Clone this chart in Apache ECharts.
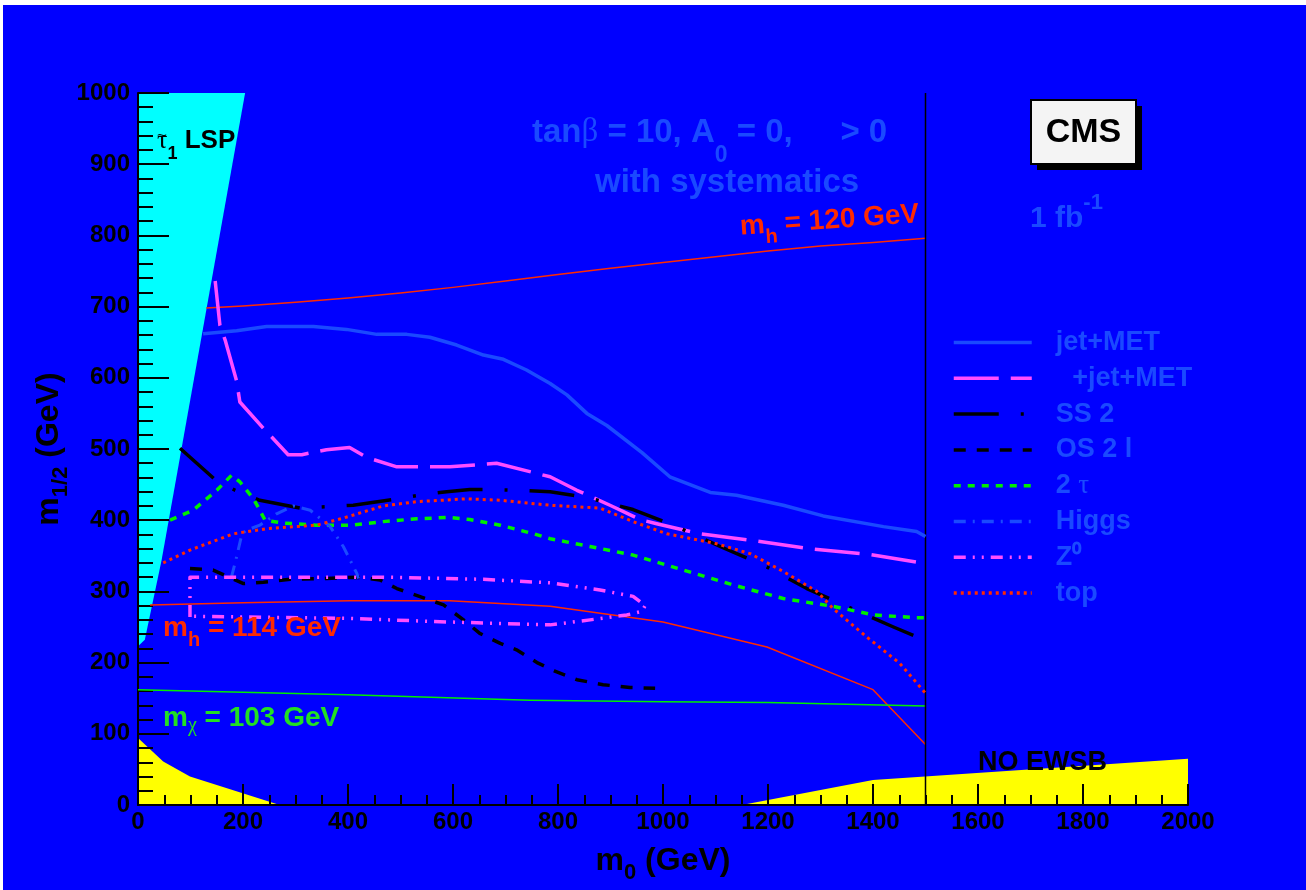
<!DOCTYPE html>
<html><head><meta charset="utf-8">
<script src="https://cdn.jsdelivr.net/npm/echarts@6/dist/echarts.min.js"></script>
<style>html,body{margin:0;padding:0;background:#fff;}#c{position:absolute;left:3px;top:5px;width:1303px;height:885px;}</style>
</head><body><div id="c"></div>
<script>
// ---------- data (m0, m1/2 in GeV) ----------
const xRange = [0, 2000];
const yRange = [0, 1000];
const legendNames = ['jet+MET', 'μ+jet+MET', 'SS 2μ', 'OS 2 l', '2 τ', 'Higgs', 'Z0', 'top'];

const jetMET = [[124,662],[188,666],[245,672],[334,672],[397,668],[455,661],[512,661],[556,657],[607,646],[658,632],[696,626],[740,611],[785,592],[817,576],[855,550],[893,533],[960,495],[1013,461],[1090,439],[1140,435],[1229,421],[1305,406],[1420,391],[1483,384],[1500,377]];
const muJetMET = [[147,736],[156,674],[166,653],[188,595],[194,566],[239,529],[286,492],[312,492],[359,499],[403,502],[436,488],[493,475],[594,475],[683,480],[785,461],[836,442],[899,421],[956,401],[988,395],[1070,381],[1166,372],[1280,360],[1394,352],[1500,339]];
const ss2mu = [[80,501],[147,457],[185,442],[232,428],[309,417],[362,419],[410,421],[493,430],[543,436],[588,440],[632,443],[674,443],[721,442],[785,440],[855,432],[943,415],[1026,391],[1112,362],[1191,337],[1274,304],[1350,279],[1439,250],[1500,231]];
const os2l = [[99,332],[143,330],[201,311],[239,313],[290,317],[359,318],[417,320],[461,316],[493,304],[544,291],[582,281],[620,260],[651,241],[690,227],[721,218],[760,200],[794,188],[836,176],[886,169],[937,165],[985,164]];
const tau2 = [[61,400],[105,414],[150,442],[178,463],[194,454],[220,430],[232,414],[242,400],[277,396],[340,393],[404,393],[467,398],[531,402],[594,404],[632,401],[690,393],[753,381],[785,374],[861,363],[943,351],[1039,330],[1134,309],[1229,290],[1324,279],[1401,267],[1483,263],[1500,263]];
const higgs = [[178,320],[188,349],[198,381],[207,386],[232,393],[264,409],[296,420],[328,414],[366,391],[391,363],[417,325],[420,318]];
const z0 = [[99,264],[99,320],[200,320],[467,320],[658,317],[785,312],[880,302],[943,293],[966,280],[960,272],[931,267],[861,260],[785,253],[594,257],[404,262],[105,265]];
const topQ = [[48,340],[99,358],[182,381],[245,388],[340,393],[391,403],[467,420],[531,426],[626,430],[690,428],[785,421],[880,417],[943,398],[1007,381],[1102,367],[1166,353],[1229,328],[1293,300],[1324,276],[1388,236],[1451,199],[1500,157]];
const mh120 = [[130,698],[200,701],[300,706],[400,712],[500,719],[600,727],[700,736],[800,745],[900,754],[1000,762],[1100,770],[1200,778],[1300,785],[1400,790],[1500,796]];
const mh114 = [[23,281],[200,284],[404,287],[594,287],[785,279],[1000,257],[1198,222],[1400,162],[1500,85]];
const mchi103 = [[0,162],[400,155],[747,147],[1000,145],[1200,144],[1500,139]];
const boundary1500 = [[1500,0],[1500,1000]];
const stauLSP = [[0,1000],[204,1000],[45,344],[13,232],[0,223]];
const noEWSBleft = [[0,0],[0,94],[48,61],[99,40],[270,0]];
const noEWSBright = [[1150,0],[1400,35],[2000,65],[2000,0]];

// ---------- styles ----------
const F = 'Liberation Sans, Arial, Helvetica, sans-serif';
const FG = 'Liberation Serif, Times New Roman, serif';
const BG = '#0000ff';
const LB = '#1a4aff';
const MAG = '#ff4dff';
const RED = '#ff2a00';
const GRN = '#00ee00';
const GTX = '#22e022';

const chart = echarts.init(document.getElementById('c'), null, {renderer: 'canvas'});

function lineSeries(name, data, color, width, type, z) {
  return {name, type: 'line', data, symbol: 'none', showSymbol: false, smooth: false,
    animation: false, silent: true, z: z || 3,
    lineStyle: {color, width, type, cap: 'butt', join: 'round'}, itemStyle: {color}};
}
function polySeries(name, pts, color) {
  return {name, type: 'custom', z: -1, silent: true, animation: false, data: [[pts[0][0], pts[0][1]]],
    renderItem: function (params, api) {
      return {type: 'polygon', shape: {points: pts.map(p => api.coord(p))}, style: {fill: color}};
    }};
}
// rich text: main tokens top-aligned; subscript bottom-aligned inside a taller line box.
// D = distance of subscript baseline below main baseline.
function subLH(S, s, D) { return D + 0.85 * S + 0.15 * s; }
function richSet(S, color, D) {
  const s = Math.round(S * 0.7);
  const L = subLH(S, s, D);
  return {
    m: {fontSize: S, fontWeight: 'bold', fontFamily: F, fill: color, lineHeight: S, verticalAlign: 'top'},
    g: {fontSize: S, fontWeight: 'normal', fontFamily: FG, fill: color, lineHeight: S, verticalAlign: 'top'},
    x: {fontSize: S, fontWeight: 'bold', fontFamily: F, fill: 'rgba(0,0,0,0)', lineHeight: S, verticalAlign: 'top'},
    s: {fontSize: s, fontWeight: 'bold', fontFamily: F, fill: color, lineHeight: L, verticalAlign: 'bottom'},
    gs: {fontSize: s, fontWeight: 'normal', fontFamily: FG, fill: color, lineHeight: L, verticalAlign: 'bottom'}
  };
}
function txt(x, y, text, S, color, D, rot) {
  return {type: 'text', x, y, rotation: rot || 0, z: 100, silent: true,
    style: {text, rich: richSet(S, color, D), fontSize: S, fontFamily: F, fill: color}};
}

const legendLabel = {
  'jet+MET': '{m|jet+MET}',
  'μ+jet+MET': '{x|μ}{m|+jet+MET}',
  'SS 2μ': '{m|SS 2}{x|μ}',
  'OS 2 l': '{m|OS 2 l}',
  '2 τ': '{m|2 }{g|τ}',
  'Higgs': '{m|Higgs}',
  'Z0': '{m|Z⁰}',
  'top': '{m|top}'
};

const axisNameRich = {
  m: {fontSize: 32, fontWeight: 'bold', fontFamily: F, color: '#000', lineHeight: 32, verticalAlign: 'top'},
  s: {fontSize: 22, fontWeight: 'bold', fontFamily: F, color: '#000', lineHeight: subLH(32, 22, 8), verticalAlign: 'bottom'}
};

const option = {
  backgroundColor: BG,
  animation: false,
  grid: {left: 135, top: 88, width: 1050, height: 712, containLabel: false, outerBoundsMode: 'none'},
  xAxis: {
    type: 'value', min: xRange[0], max: xRange[1], interval: 200,
    name: '{m|m}{s|0}{m| (GeV)}', nameLocation: 'middle', nameGap: 40, nameMoveOverlap: false,
    nameTextStyle: {rich: axisNameRich},
    axisLine: {onZero: false, lineStyle: {color: '#000', width: 2}},
    axisTick: {inside: true, length: 21, lineStyle: {color: '#000', width: 2}},
    minorTick: {show: true, splitNumber: 4, length: 10, lineStyle: {color: '#000', width: 2}},
    splitLine: {show: false},
    axisLabel: {color: '#000', fontSize: 24, fontWeight: 'bold', fontFamily: F, margin: 5, formatter: v => String(v)}
  },
  yAxis: {
    type: 'value', min: yRange[0], max: yRange[1], interval: 100,
    name: '{m|m}{s|1/2}{m| (GeV)}', nameLocation: 'middle', nameGap: 66, nameRotate: 90, nameMoveOverlap: false,
    nameTextStyle: {rich: axisNameRich},
    axisLine: {onZero: false, lineStyle: {color: '#000', width: 2}},
    axisTick: {inside: true, length: 31, lineStyle: {color: '#000', width: 2}},
    minorTick: {show: true, splitNumber: 5, length: 15, lineStyle: {color: '#000', width: 2}},
    splitLine: {show: false},
    axisLabel: {color: '#000', fontSize: 24, fontWeight: 'bold', fontFamily: F, margin: 8, formatter: v => String(v)}
  },
  legend: {
    orient: 'vertical', left: 949, top: 324, padding: 0, itemWidth: 78, itemHeight: 14, itemGap: 8.8,
    selectedMode: false, data: legendNames, itemStyle: {opacity: 0},
    lineStyle: {width: 3.5},
    formatter: function (name) { return legendLabel[name]; },
    textStyle: {color: LB, padding: [0, 0, 0, 19], rich: {
      m: {fontSize: 27, fontWeight: 'bold', fontFamily: F, color: LB, lineHeight: 27},
      x: {fontSize: 27, fontWeight: 'bold', fontFamily: F, color: 'rgba(0,0,0,0)', lineHeight: 27},
      g: {fontSize: 27, fontWeight: 'normal', fontFamily: FG, color: LB, lineHeight: 27}
    }}
  },
  series: [
    polySeries('stau LSP', stauLSP, '#00ffff'),
    polySeries('no EWSB left', noEWSBleft, '#ffff00'),
    polySeries('no EWSB right', noEWSBright, '#ffff00'),
    lineSeries('mh120', mh120, RED, 1.5, 'solid'),
    lineSeries('mh114', mh114, RED, 1.5, 'solid'),
    lineSeries('mchi103', mchi103, GRN, 1.5, 'solid'),
    lineSeries('m0=1500', boundary1500, '#000', 1.5, 'solid'),
    lineSeries('jet+MET', jetMET, LB, 3.5, 'solid'),
    lineSeries('μ+jet+MET', muJetMET, MAG, 3.5, [45, 12]),
    lineSeries('SS 2μ', ss2mu, '#000', 3.5, [45, 22, 3, 22]),
    lineSeries('OS 2 l', os2l, '#000', 3.5, [12, 11]),
    lineSeries('2 τ', tau2, GRN, 3.5, [7, 7]),
    lineSeries('Higgs', higgs, LB, 3, [12, 7, 2, 7]),
    lineSeries('Z0', z0, MAG, 3.5, [12, 7, 2, 7, 2, 7]),
    lineSeries('top', topQ, RED, 3, [3, 4])
  ],
  graphic: {elements: [
    txt(154, 123, '{g|τ}{s|1}{m| LSP}', 26, '#000', 10),
    {type: 'text', x: 159, y: 131, z: 101, silent: true, style: {text: '~', fontSize: 17, fontFamily: F, fill: '#000', align: 'center', verticalAlign: 'middle'}},
    txt(529, 111, '{m|tan}{g|β}{m| = 10, A}{s|0}{m| = 0, }{x|μ}{m|  > 0}', 33, LB, 20),
    txt(592, 161, '{m|with systematics}', 33, LB, 0),
    txt(736, 208, '{m|m}{s|h}{m| = 120 GeV}', 28, RED, 9.5, 0.07),
    txt(160, 609, '{m|m}{s|h}{m| = 114 GeV}', 28, RED, 9.5),
    txt(160, 699, '{m|m}{gs|χ}{m| = 103 GeV}', 28, GTX, 5),
    txt(975, 744, '{m|NO EWSB}', 27, '#000', 0),
    {type: 'text', x: 1027, y: 187, z: 100, silent: true, style: {text: '{mb|1 fb}{u|-1}', rich: {
      mb: {fontSize: 30, fontWeight: 'bold', fontFamily: F, fill: LB, lineHeight: 42, verticalAlign: 'bottom'},
      u: {fontSize: 22, fontWeight: 'bold', fontFamily: F, fill: LB, lineHeight: 22, verticalAlign: 'top'}
    }}},
    {type: 'rect', z: 99, silent: true, shape: {x: 1034, y: 101, width: 105, height: 64}, style: {fill: '#000'}},
    {type: 'rect', z: 100, silent: true, shape: {x: 1028, y: 95, width: 105, height: 64}, style: {fill: '#f4f4f4', stroke: '#000', lineWidth: 2}},
    {type: 'text', z: 101, silent: true, x: 1080.5, y: 127.5, style: {text: 'CMS', fontSize: 34, fontWeight: 'bold', fontFamily: F, fill: '#000', align: 'center', verticalAlign: 'middle'}}
  ]}
};
chart.setOption(option);
</script></body></html>
